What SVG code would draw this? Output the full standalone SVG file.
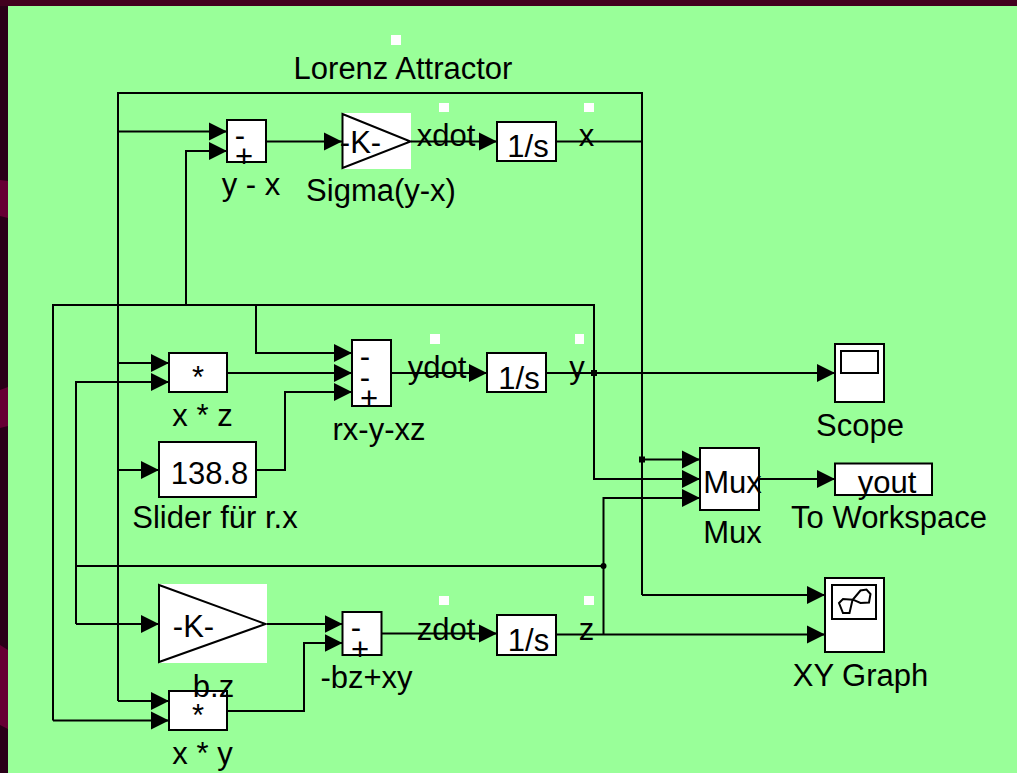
<svg xmlns="http://www.w3.org/2000/svg" width="1017" height="773" viewBox="0 0 1017 773">
<style>
.t{font-family:"Liberation Sans",Arial,sans-serif;font-size:31px;fill:#000;text-anchor:middle}
.b{fill:#fff;stroke:#000;stroke-width:2}
.w{fill:#fff}
.c{fill:none;stroke:#000;stroke-width:2;stroke-linejoin:miter}
.a{marker-end:url(#arrow)}
</style>
<defs>
<marker id="arrow" markerUnits="userSpaceOnUse" markerWidth="19" markerHeight="20" refX="18" refY="10" orient="auto">
<path d="M0,1 L18,10 L0,19 Z" fill="#000"/>
</marker>
</defs>
<rect width="1017" height="773" fill="#2a0018"/>
<rect width="1017" height="6" fill="#42001f"/>
<polygon points="0,180 8,181 8,218 0,216" fill="#660033"/>
<polygon points="0,390 8,387 8,426 0,428" fill="#660033"/>
<polygon points="0,645 8,650 8,729 0,725" fill="#660033"/>
<rect x="8" y="6" width="1009" height="767" fill="#99ff99"/>

<g id="connectors">
<path class="c" d="M118,701 V93 H642 V595"/>
<path class="c" d="M556,141.500 H642"/>
<path class="c a" d="M118,131.500 H227"/>
<path class="c a" d="M186,305 V151 H227"/>
<path class="c a" d="M266,141.500 H342"/>
<path class="c a" d="M411,141.500 H497"/>
<path class="c" d="M594,373 V305 H53 V720.500"/>
<path class="c a" d="M256,305 V353 H352"/>
<path class="c a" d="M118,363 H169"/>
<path class="c a" d="M76,624 V382 H169"/>
<path class="c a" d="M227,373 H352"/>
<path class="c a" d="M118,470 H159"/>
<path class="c a" d="M256,470 H285 V392 H352"/>
<path class="c a" d="M391,373 H487"/>
<path class="c a" d="M546,373 H835"/>
<path class="c a" d="M594,373 V479 H700"/>
<path class="c a" d="M642,459.500 H700"/>
<path class="c a" d="M603.500,634.500 V498 H700"/>
<path class="c a" d="M759,479 H835"/>
<path class="c" d="M76,566 H603.500"/>
<path class="c a" d="M76,624 H159"/>
<path class="c a" d="M266,624 H342.500"/>
<path class="c a" d="M227,711 H304 V643 H342.500"/>
<path class="c a" d="M381,633.500 H497"/>
<path class="c a" d="M556,634.500 H825"/>
<path class="c a" d="M642,595 H825"/>
<path class="c a" d="M118,701 H169"/>
<path class="c a" d="M53,720.500 H169"/>
<rect x="591" y="370" width="6" height="6" fill="#000"/>
<rect x="639" y="456.500" width="6" height="6" fill="#000"/>
<circle cx="603.500" cy="566" r="3" fill="#000"/>
</g>

<g id="sum-yx"><rect class="b" x="227" y="120" width="39" height="42"/><text class="t" x="240" y="146">-</text><text class="t" x="244" y="166.500">+</text><text class="t" x="251" y="195">y - x</text></g>
<g id="gain-sigma"><rect class="w" x="342" y="113" width="69" height="56"/><path class="b" d="M342.500,114 L410.500,141.500 L342.500,168 Z"/><text class="t" x="360.500" y="153">-K-</text><text class="t" x="381" y="201">Sigma(y-x)</text></g>
<g id="int-x"><rect class="b" x="497" y="122" width="59" height="39"/><text class="t" x="528" y="157">1/s</text></g>
<g id="mul-xz"><rect class="b" x="169" y="353" width="58" height="39"/><text class="t" x="198" y="388">*</text><text class="t" x="202.500" y="425.500">x * z</text></g>
<g id="slider"><rect class="b" x="159" y="442" width="97" height="55"/><text class="t" x="209.500" y="484">138.8</text><text class="t" x="215" y="528">Slider für r.x</text></g>
<g id="sum-y"><rect class="b" x="352" y="340" width="39" height="66"/><text class="t" x="365" y="367">-</text><text class="t" x="365" y="388">-</text><text class="t" x="369" y="408.500">+</text><text class="t" x="379" y="440">rx-y-xz</text></g>
<g id="int-y"><rect class="b" x="487" y="353" width="59" height="39"/><text class="t" x="519" y="389">1/s</text></g>
<g id="scope"><rect class="b" x="835" y="344" width="49" height="58"/><rect class="b" x="841" y="351" width="37" height="22"/><text class="t" x="860" y="435.500">Scope</text></g>
<g id="mux"><rect class="b" x="700" y="448" width="59" height="62"/><text class="t" x="732.500" y="493">Mux</text><text class="t" x="732.500" y="543">Mux</text></g>
<g id="workspace"><rect class="b" x="835" y="463.500" width="97" height="31.500"/><text class="t" x="887" y="493">yout</text><text class="t" x="889" y="528">To Workspace</text></g>
<g id="gain-b"><rect class="w" x="159" y="584" width="108" height="79"/><path class="b" d="M159,585 L265.500,624 L159,662 Z"/><text class="t" x="193.500" y="636.500">-K-</text></g>
<g id="mul-xy"><rect class="b" x="169" y="691" width="58" height="39"/><text class="t" x="198" y="726">*</text><text class="t" x="202.500" y="764">x * y</text></g>
<g id="label-bz"><text class="t" x="213.500" y="697">b.z</text></g>
<g id="sum-z"><rect class="b" x="342.500" y="612" width="39" height="43"/><text class="t" x="356" y="638">-</text><text class="t" x="360" y="659.500">+</text><text class="t" x="366.500" y="688">-bz+xy</text></g>
<g id="int-z"><rect class="b" x="497" y="615" width="59" height="40"/><text class="t" x="528.500" y="651">1/s</text></g>
<g id="xy-graph"><rect class="b" x="825" y="578" width="59" height="74"/><rect class="b" x="832" y="585" width="44" height="34"/><path class="c" d="M853,599.700 L843,599 L839,603 L843,613 L849.500,613 L852.500,600 L860.500,590.500 L866.500,589.500 L870.500,594 L869,602.500 L860.500,603 Z"/><text class="t" x="860.500" y="686">XY Graph</text></g>

<g id="labels">
<text class="t" x="403" y="79">Lorenz Attractor</text>
<text class="t" x="446" y="146">xdot</text>
<text class="t" x="586.500" y="146">x</text>
<text class="t" x="437" y="378">ydot</text>
<text class="t" x="577" y="378">y</text>
<text class="t" x="446" y="639.500">zdot</text>
<text class="t" x="586.500" y="639.500">z</text>
</g>
<g id="handles" fill="#fff">
<rect x="391" y="35" width="10" height="10"/>
<rect x="439" y="103" width="10" height="9"/>
<rect x="584" y="103" width="10" height="9"/>
<rect x="430" y="334" width="10" height="10"/>
<rect x="575" y="334" width="9" height="10"/>
<rect x="439" y="596" width="10" height="9"/>
<rect x="584" y="596" width="10" height="9"/>
</g>
</svg>
